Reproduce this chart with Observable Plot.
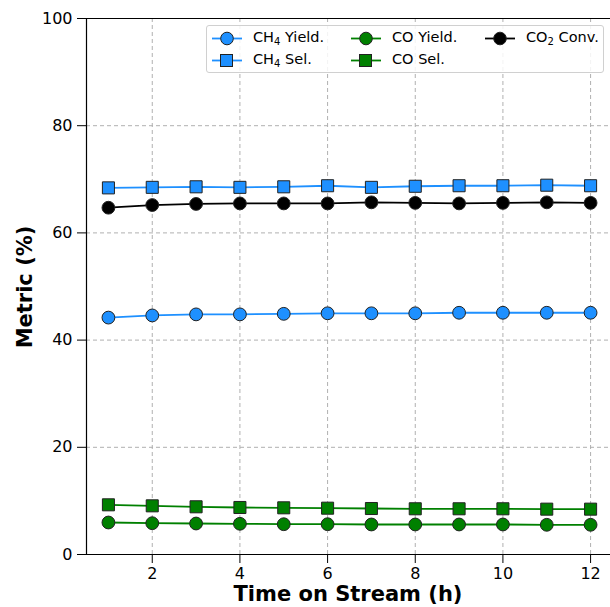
<!DOCTYPE html>
<html>
<head>
<meta charset="utf-8">
<script src="https://cdn.jsdelivr.net/npm/d3@7"></script>
<script src="https://cdn.jsdelivr.net/npm/@observablehq/plot@0.6"></script>
<style>
  html, body { margin: 0; padding: 0; background: #fff; overflow: hidden; }
  #wrap { position: relative; width: 610px; height: 607px; overflow: hidden; font-family: "DejaVu Sans", sans-serif; }
  #legend { position: absolute; left: 206px; top: 25px; width: 398px; height: 48px; box-sizing: border-box;
            border: 1px solid #d0d0d0; border-radius: 3px; background: rgba(255,255,255,0.85); }
  .entry { position: absolute; font-size: 14.5px; color: #000; white-space: nowrap; line-height: 1; }
  .entry svg { position: absolute; overflow: visible; }
  sub { font-size: 10px; vertical-align: -3px; line-height: 0; }
</style>
</head>
<body>
<div id="wrap"></div>
<script>
const hours = [1, 2, 3, 4, 5, 6, 7, 8, 9, 10, 11, 12];
const ch4Yield = [44.2, 44.6, 44.8, 44.8, 44.9, 45.0, 45.0, 45.0, 45.1, 45.1, 45.1, 45.1];
const ch4Sel   = [68.4, 68.5, 68.6, 68.5, 68.6, 68.8, 68.5, 68.7, 68.8, 68.8, 68.9, 68.8];
const coYield  = [5.97, 5.84, 5.78, 5.73, 5.65, 5.65, 5.6, 5.6, 5.6, 5.6, 5.54, 5.54];
const coSel    = [9.27, 9.08, 8.9, 8.77, 8.71, 8.64, 8.58, 8.53, 8.53, 8.53, 8.46, 8.46];
const co2Conv  = [64.7, 65.2, 65.4, 65.5, 65.5, 65.5, 65.7, 65.6, 65.5, 65.6, 65.7, 65.6];
const xTicks = [2, 4, 6, 8, 10, 12];
const yTicks = [0, 20, 40, 60, 80, 100];

const seriesDefs = [
  {key: "CH4 Yield.", html: "CH<sub>4</sub> Yield.", values: ch4Yield, color: "#1e90ff", symbol: "circle"},
  {key: "CH4 Sel.", html: "CH<sub>4</sub> Sel.", values: ch4Sel, color: "#1e90ff", symbol: "square"},
  {key: "CO Yield.", html: "CO Yield.", values: coYield, color: "#008000", symbol: "circle"},
  {key: "CO Sel.", html: "CO Sel.", values: coSel, color: "#008000", symbol: "square"},
  {key: "CO2 Conv.", html: "CO<sub>2</sub> Conv.", values: co2Conv, color: "#000000", symbol: "circle"}
];

const marks = [
  Plot.gridX(xTicks, {stroke: "#b0b0b0", strokeOpacity: 1, strokeDasharray: "4,3", strokeWidth: 1}),
  Plot.gridY(yTicks, {stroke: "#b0b0b0", strokeOpacity: 1, strokeDasharray: "4,3", strokeWidth: 1}),
  Plot.ruleX([0.5], {stroke: "#000", strokeWidth: 1.2}),
  Plot.ruleY([0, 100], {stroke: "#000", strokeWidth: 1.2}),
  Plot.axisX(xTicks, {tickSize: 9, tickPadding: 4, fontSize: 16, label: null, stroke: "#000", tickFormat: d => d}),
  Plot.axisY(yTicks, {tickSize: 9, tickPadding: 5, fontSize: 16, label: null, stroke: "#000", tickFormat: d => d})
];
for (const s of seriesDefs) {
  const data = hours.map((h, i) => ({h, v: s.values[i]}));
  marks.push(Plot.line(data, {x: "h", y: "v", stroke: s.color, strokeWidth: 1.8}));
  marks.push(Plot.dot(data, {x: "h", y: "v", symbol: s.symbol, r: s.symbol === "square" ? 6.8 : 6.4,
    fill: s.color, stroke: "#222", strokeWidth: 1}));
}

const chart = Plot.plot({
  width: 612, height: 607,
  marginLeft: 86, marginRight: 0, marginTop: 18, marginBottom: 53,
  x: {domain: [0.5, 12.5]},
  y: {domain: [0, 100]},
  style: {fontFamily: "DejaVu Sans, sans-serif", color: "#000", background: "transparent"},
  marks
});
chart.style.position = "absolute";
chart.style.left = "0px";
chart.style.top = "0px";
chart.style.maxWidth = "none";
chart.style.width = "612px";
chart.style.height = "607px";
chart.style.overflow = "visible";
const wrap = document.getElementById("wrap");
wrap.appendChild(chart);

// axis titles
const yl = document.createElement("div");
yl.textContent = "Metric (%)";
Object.assign(yl.style, {position: "absolute", left: "25px", top: "287px", transform: "translate(-50%,-50%) rotate(-90deg)",
  fontWeight: "bold", fontSize: "21px", whiteSpace: "nowrap"});
wrap.appendChild(yl);
const xl = document.createElement("div");
xl.textContent = "Time on Stream (h)";
Object.assign(xl.style, {position: "absolute", left: "348px", top: "595px", transform: "translate(-50%,-50%)",
  fontWeight: "bold", fontSize: "21px", whiteSpace: "nowrap", lineHeight: "1.1"});
wrap.appendChild(xl);

// legend
const legend = document.createElement("div");
legend.id = "legend";
wrap.appendChild(legend);
const pos = [
  {col: 0, row: 0}, {col: 0, row: 1}, {col: 1, row: 0}, {col: 1, row: 1}, {col: 2, row: 0}
];
const colX = [5, 144, 278];   // handle start relative to legend box
const rowY = [12, 34];        // centre y relative to legend box
seriesDefs.forEach((s, i) => {
  const p = pos[i];
  const e = document.createElement("div");
  e.className = "entry";
  e.style.left = colX[p.col] + "px";
  e.style.top = (rowY[p.row] - 8) + "px";
  const marker = s.symbol === "square"
    ? `<rect x="8.5" y="1.5" width="12" height="12" fill="${s.color}" stroke="#222" stroke-width="1"/>`
    : `<circle cx="15" cy="7.5" r="6.3" fill="${s.color}" stroke="#222" stroke-width="1"/>`;
  e.innerHTML = `<svg width="30" height="15" style="left:0;top:0.5px"><line x1="0" y1="7.5" x2="30" y2="7.5" stroke="${s.color}" stroke-width="1.8"/>${marker}</svg><span style="position:absolute;left:41px;top:0px">${s.html}</span>`;
  legend.appendChild(e);
});
</script>
</body>
</html>
